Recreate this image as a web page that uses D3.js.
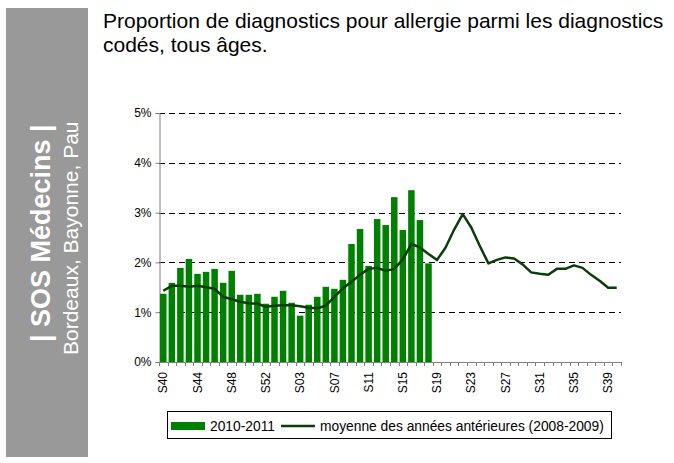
<!DOCTYPE html>
<html>
<head>
<meta charset="utf-8">
<script src="https://cdn.jsdelivr.net/npm/d3@7"></script>
<style>
  html, body { margin: 0; padding: 0; background: #fff; }
  svg { display: block; font-family: "Liberation Sans", Arial, sans-serif; }
</style>
</head>
<body>
<svg id="chart" width="674" height="463"></svg>
<script>
// ---- data ----
const weeks = ["S40","S41","S42","S43","S44","S45","S46","S47","S48","S49","S50","S51","S52","S53",
  "S01","S02","S03","S04","S05","S06","S07","S08","S09","S10","S11","S12","S13","S14","S15","S16",
  "S17","S18","S19","S20","S21","S22","S23","S24","S25","S26","S27","S28","S29","S30","S31","S32",
  "S33","S34","S35","S36","S37","S38","S39","S40"];
const tickLabels = ["S40","S44","S48","S52","S03","S07","S11","S15","S19","S23","S27","S31","S35","S39"];
const bars2010 = [1.37,1.59,1.89,2.07,1.77,1.81,1.87,1.59,1.83,1.35,1.35,1.37,1.17,1.31,
  1.43,1.19,0.93,1.15,1.31,1.51,1.47,1.65,2.37,2.67,1.93,2.87,2.75,3.31,2.65,3.45,2.85,1.98];
const avgPrev = [1.43,1.53,1.53,1.51,1.53,1.50,1.47,1.31,1.26,1.21,1.18,1.17,1.11,1.13,
  1.14,1.14,1.12,1.09,1.08,1.13,1.31,1.48,1.61,1.75,1.87,1.89,1.83,1.87,2.06,2.37,2.30,2.17,
  2.05,2.30,2.66,2.97,2.70,2.33,1.98,2.05,2.10,2.08,1.96,1.80,1.77,1.75,1.87,1.87,1.94,1.89,
  1.75,1.63,1.49,1.49];
const yTicks = [0, 1, 2, 3, 4, 5];
const titleLines = ["Proportion de diagnostics pour allergie parmi les diagnostics", "codés, tous âges."];
const legendLabels = ["2010-2011", "moyenne des années antérieures (2008-2009)"];

const barColor = "#008000";
const lineColor = "#0b3d0b";

const svg = d3.select("#chart");

// ---- side panel ----
svg.append("rect").attr("x", 6).attr("y", 8).attr("width", 82).attr("height", 449).attr("fill", "#999999");
svg.append("text").attr("transform", "translate(50,342) rotate(-90)")
  .attr("fill", "#fff").attr("font-weight", "bold").attr("font-size", 27)
  .text("| SOS Médecins |");
svg.append("text").attr("transform", "translate(78,355) rotate(-90)")
  .attr("fill", "#fff").attr("font-size", 21)
  .text("Bordeaux, Bayonne, Pau");

// ---- title ----
svg.append("text").attr("x", 103).attr("y", 28).attr("font-size", 21).attr("fill", "#000")
  .selectAll("tspan").data(titleLines).join("tspan")
  .attr("x", 103).attr("dy", (d, i) => i === 0 ? 0 : 24).text(d => d);

// ---- scales ----
const pLeft = 159, pRight = 621, pTop = 113, pBottom = 362;
const x = d3.scaleBand().domain(d3.range(weeks.length)).range([pLeft, pRight])
  .paddingInner(0.24).paddingOuter(0.12);
const y = d3.scaleLinear().domain([0, 5]).range([pBottom, pTop]);
const cx = i => x(i) + x.bandwidth() / 2;

// grid lines
svg.append("g").selectAll("line").data(yTicks.filter(d => d > 0)).join("line")
  .attr("x1", pLeft).attr("x2", pRight)
  .attr("y1", d => Math.round(y(d)) + 0.5).attr("y2", d => Math.round(y(d)) + 0.5)
  .attr("stroke", "#000").attr("stroke-width", 1).attr("stroke-dasharray", "6,4");

// y axis
const yAxis = d3.axisLeft(y).tickValues(yTicks).tickSize(4).tickPadding(4)
  .tickFormat(d => d + "%");
const gy = svg.append("g").attr("transform", `translate(${pLeft + 0.5},0)`).call(yAxis);
gy.select(".domain").attr("stroke", "#808080");
gy.selectAll(".tick line").attr("stroke", "#808080");
gy.selectAll(".tick text").attr("font-size", 12).attr("font-family", "Liberation Sans, Arial, sans-serif").attr("fill", "#000");

// bars
svg.append("g").selectAll("rect").data(bars2010).join("rect")
  .attr("x", (d, i) => x(i)).attr("width", x.bandwidth())
  .attr("y", d => y(d)).attr("height", d => y(0) - y(d))
  .attr("fill", barColor);

// x axis line and boundary ticks
const gx = svg.append("g");
gx.append("line").attr("x1", pLeft).attr("x2", pRight)
  .attr("y1", pBottom + 0.5).attr("y2", pBottom + 0.5).attr("stroke", "#808080");
gx.selectAll("line.tk").data(d3.range(weeks.length + 1)).join("line").attr("class", "tk")
  .attr("x1", i => Math.round(pLeft + i * x.step()) + 0.5).attr("x2", i => Math.round(pLeft + i * x.step()) + 0.5)
  .attr("y1", pBottom).attr("y2", pBottom + 4).attr("stroke", "#808080");

const xAxis = d3.axisBottom(x)
  .tickValues(d3.range(weeks.length).filter(i => tickLabels.includes(weeks[i]) && i < weeks.length - 1))
  .tickFormat(i => weeks[i]).tickSize(0);
const gxa = svg.append("g").attr("transform", `translate(0,${pBottom})`).call(xAxis);
gxa.select(".domain").remove();
gxa.selectAll(".tick text")
  .attr("font-size", 12).attr("font-family", "Liberation Sans, Arial, sans-serif").attr("fill", "#000")
  .attr("text-anchor", "end").attr("transform", "rotate(-90)")
  .attr("x", -10).attr("y", 0).attr("dy", "0.35em");

// line
const line = d3.line().x((d, i) => cx(i)).y(d => y(d));
svg.append("path").datum(avgPrev).attr("d", line)
  .attr("fill", "none").attr("stroke", lineColor).attr("stroke-width", 2.5)
  .attr("stroke-linejoin", "round");

// legend
const lg = svg.append("g");
lg.append("rect").attr("x", 167.5).attr("y", 411.5).attr("width", 444).attr("height", 27)
  .attr("fill", "#fff").attr("stroke", "#000");
lg.append("rect").attr("x", 171).attr("y", 422).attr("width", 34).attr("height", 8).attr("fill", barColor);
lg.append("text").attr("x", 210).attr("y", 430.5).attr("font-size", 13.8).text(legendLabels[0]);
lg.append("line").attr("x1", 281).attr("x2", 315).attr("y1", 426).attr("y2", 426)
  .attr("stroke", lineColor).attr("stroke-width", 2.5);
lg.append("text").attr("x", 320).attr("y", 430.5).attr("font-size", 13.8).text(legendLabels[1]);
</script>
</body>
</html>
